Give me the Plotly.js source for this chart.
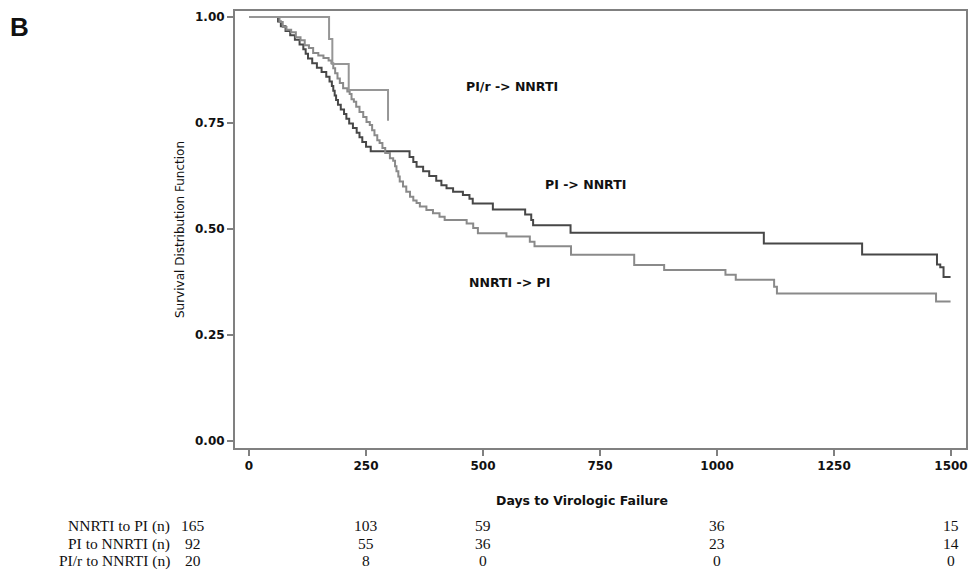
<!DOCTYPE html>
<html>
<head>
<meta charset="utf-8">
<script src="https://cdn.plot.ly/plotly-3.0.1.min.js"></script>
<style>html,body{margin:0;padding:0;background:#fff;}</style>
</head>
<body>
<div id="chart" style="width:971px;height:579px;"></div>
<script>
// Kaplan-Meier step data (days, survival)
const piToNnrtiDays = [0,62,68,78,88,98,108,116,121,126,135,145,155,165,172,177,180,183,186,190,196,203,208,214,222,230,236,242,250,260,343,351,358,372,385,400,411,422,436,457,471,478,521,590,603,607,687,1100,1310,1470,1477,1484,1499];
const piToNnrtiSurv = [1,0.989,0.978,0.967,0.957,0.946,0.935,0.924,0.913,0.902,0.891,0.880,0.870,0.859,0.848,0.837,0.826,0.815,0.804,0.793,0.782,0.771,0.760,0.749,0.738,0.727,0.716,0.705,0.694,0.683,0.670,0.658,0.647,0.636,0.625,0.614,0.603,0.596,0.588,0.580,0.571,0.560,0.546,0.534,0.521,0.509,0.491,0.466,0.440,0.416,0.410,0.387,0.387];

const nnrtiToPiDays = [0,65,72,80,90,100,110,119,128,137,148,159,170,176,180,184,189,194,201,210,215,219,224,229,236,244,251,258,263,268,274,279,285,291,301,308,312,315,319,322,329,336,344,351,358,365,379,393,407,418,465,479,489,550,600,610,688,823,887,1018,1040,1122,1128,1468,1499];
const nnrtiToPiSurv = [1,0.988,0.976,0.970,0.964,0.952,0.945,0.933,0.927,0.915,0.909,0.903,0.897,0.891,0.879,0.867,0.855,0.844,0.832,0.824,0.818,0.806,0.800,0.788,0.776,0.764,0.752,0.745,0.733,0.721,0.709,0.703,0.691,0.679,0.667,0.661,0.648,0.636,0.624,0.612,0.600,0.588,0.576,0.567,0.561,0.553,0.545,0.537,0.529,0.521,0.513,0.502,0.490,0.482,0.470,0.459,0.439,0.415,0.403,0.392,0.380,0.364,0.348,0.329,0.329];

const pirToNnrtiDays = [0,171,178,213,297];
const pirToNnrtiSurv = [1,0.948,0.889,0.828,0.755];

// axis ticks
const xTickVals = [0,250,500,750,1000,1250,1500];
const yTickVals = [0,0.25,0.5,0.75,1];
const yTickText = ['0.00','0.25','0.50','0.75','1.00'];

// number-at-risk table
const riskDays = [0,250,500,1000,1500];
const riskRowLabels = ['NNRTI to PI (n)','PI to NNRTI (n)','PI/r to NNRTI (n)'];
const riskNnrtiToPi = [165,103,59,36,15];
const riskPiToNnrti = [92,55,36,23,14];
const riskPirToNnrti = [20,8,0,0,0];

// curve labels
const curveLabels = ['PI/r -> NNRTI','PI -> NNRTI','NNRTI -> PI'];
const curveLabelX = [561,719,557];
const curveLabelY = [0.837,0.606,0.373];

const traces = [
  {x: piToNnrtiDays, y: piToNnrtiSurv, type:'scatter', mode:'lines', line:{shape:'hv', color:'#474747', width:2}, name:'PI -> NNRTI'},
  {x: nnrtiToPiDays, y: nnrtiToPiSurv, type:'scatter', mode:'lines', line:{shape:'hv', color:'#8a8a8a', width:2}, name:'NNRTI -> PI'},
  {x: pirToNnrtiDays, y: pirToNnrtiSurv, type:'scatter', mode:'lines', line:{shape:'hv', color:'#969696', width:2}, name:'PI/r -> NNRTI'}
];

const sansBold = {family:'DejaVu Sans, Verdana, sans-serif', weight:'bold', color:'#111'};
const serif = {family:'Liberation Serif, Times New Roman, serif', size:15.5, color:'#111'};

const annotations = [];
// panel letter
annotations.push({xref:'paper', yref:'paper', x:-0.310, y:0.963, xanchor:'left', yanchor:'middle', text:'B', showarrow:false, font:{family:'Liberation Sans, Arial, sans-serif', size:26, weight:'bold', color:'#111'}});
// curve labels
curveLabels.forEach((t,i)=>annotations.push({xref:'x', yref:'y', x:curveLabelX[i], y:curveLabelY[i], text:t, showarrow:false, xanchor:'center', yanchor:'middle', font:Object.assign({size:12.5}, sansBold)}));
// x title
annotations.push({xref:'paper', yref:'paper', x:0.475, y:-0.121, xanchor:'center', yanchor:'middle', text:'Days to Virologic Failure', showarrow:false, font:Object.assign({size:12.5}, sansBold)});
// risk table
const riskRows = [riskNnrtiToPi, riskPiToNnrti, riskPirToNnrti];
const rowY = [-0.178,-0.219,-0.258];
riskRows.forEach((row,r)=>{
  annotations.push({xref:'paper', yref:'paper', x:-0.086, y:rowY[r], xanchor:'right', yanchor:'middle', text:riskRowLabels[r], showarrow:false, font:serif});
  row.forEach((v,c)=>annotations.push({xref:'x', yref:'paper', x:riskDays[c], y:rowY[r], xshift: c===0 ? -56 : 0, xanchor:'center', yanchor:'middle', text:String(v), showarrow:false, font:serif}));
});

const axisCommon = {ticks:'outside', ticklen:6, tickwidth:1.5, tickcolor:'#808080', showline:true, linecolor:'#808080', linewidth:2, mirror:true, showgrid:false, zeroline:false, tickfont:Object.assign({size:12}, sansBold)};

const layout = {
  width:971, height:579,
  margin:{l:235, r:5, t:11, b:131},
  paper_bgcolor:'#ffffff', plot_bgcolor:'#ffffff',
  showlegend:false,
  font:{family:'DejaVu Sans, sans-serif', color:'#111'},
  xaxis: Object.assign({}, axisCommon, {range:[-30,1532], tickvals:xTickVals}),
  yaxis: Object.assign({}, axisCommon, {range:[-0.0165,1.014], tickvals:yTickVals, ticktext:yTickText, title:{text:'Survival Distribution Function', font:{family:'DejaVu Sans, Verdana, sans-serif', size:12, color:'#111'}, standoff:8}}),
  annotations: annotations
};

Plotly.newPlot('chart', traces, layout, {displayModeBar:false, staticPlot:true});
</script>
</body>
</html>
